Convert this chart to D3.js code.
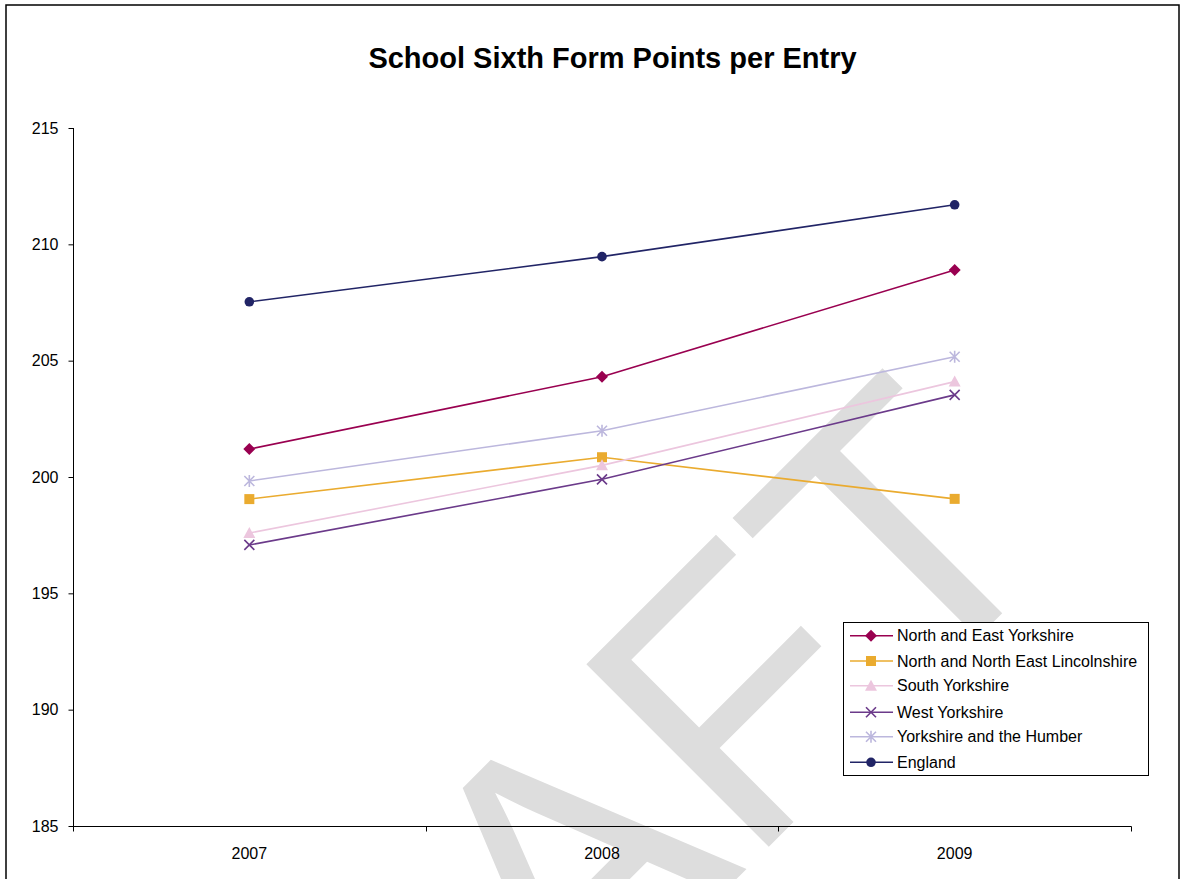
<!DOCTYPE html>
<html>
<head>
<meta charset="utf-8">
<script src="https://cdn.jsdelivr.net/npm/d3@7"></script>
<style>
  html, body { margin: 0; padding: 0; background: #fff; }
  svg { display: block; }
  text { font-family: "Liberation Sans", Arial, sans-serif; }
</style>
</head>
<body>
<svg id="chart" width="1183" height="879"></svg>
<script>
// ---- data ----
const categories = ["2007", "2008", "2009"];
const seriesNames = [
  "North and East Yorkshire",
  "North and North East Lincolnshire",
  "South Yorkshire",
  "West Yorkshire",
  "Yorkshire and the Humber",
  "England"
];
const northEastYorkshire = [201.20, 204.31, 208.90];
const northNorthEastLincs = [199.05, 200.85, 199.06];
const southYorkshire = [197.59, 200.50, 204.10];
const westYorkshire = [197.08, 199.90, 203.53];
const yorkshireHumber = [199.83, 201.99, 205.17];
const england = [207.53, 209.47, 211.70];
const yTicks = [185, 190, 195, 200, 205, 210, 215];
const title = "School Sixth Form Points per Entry";
const watermark = "DRAFT";

const seriesValues = [northEastYorkshire, northNorthEastLincs, southYorkshire, westYorkshire, yorkshireHumber, england];
const seriesColors = ["#990050", "#eaab2f", "#ecc6de", "#6b3a8a", "#bcb7dd", "#212466"];
const seriesMarkers = ["diamond", "square", "triangle", "x", "asterisk", "circle"];

const svg = d3.select("#chart");

// watermark (behind chart)
svg.append("text")
  .attr("transform", "translate(1071,544.5) rotate(-45)")
  .attr("text-anchor", "end")
  .attr("font-size", 375)
  .attr("fill", "#dddddd")
  .text(watermark);

// chart border
svg.append("rect")
  .attr("x", 6).attr("y", 5)
  .attr("width", 1173).attr("height", 900)
  .attr("fill", "none")
  .attr("stroke", "#000")
  .attr("stroke-width", 1.5);

// title
svg.append("text")
  .attr("x", 612.5).attr("y", 68)
  .attr("text-anchor", "middle")
  .attr("font-size", 29)
  .attr("font-weight", "bold")
  .attr("fill", "#000")
  .text(title);

const x = d3.scaleBand().domain(categories).range([73, 1131]).padding(0);
const y = d3.scaleLinear().domain([185, 215]).range([826, 128]);

// y axis
const yAxis = d3.axisLeft(y).tickValues(yTicks).tickSize(5).tickPadding(10).tickFormat(d3.format("d"));
const gy = svg.append("g").attr("transform", "translate(73.5,0)").call(yAxis);
gy.select(".domain").attr("stroke", "#000").attr("d", `M0,${y(215)}V${y(185)}`);
gy.selectAll(".tick line").attr("stroke", "#000");
gy.selectAll(".tick text").attr("font-size", 16).attr("fill", "#000").attr("font-family", "Liberation Sans, Arial, sans-serif");

// x axis
const boundaries = categories.map(c => x(c)).concat([x(categories[categories.length - 1]) + x.bandwidth()]);
const gx = svg.append("g").attr("transform", "translate(0,826.5)");
gx.append("line").attr("x1", 73).attr("x2", 1131.5).attr("y1", 0).attr("y2", 0).attr("stroke", "#000");
gx.selectAll("line.tk").data(boundaries).join("line").attr("class", "tk")
  .attr("x1", d => Math.round(d) + 0.5).attr("x2", d => Math.round(d) + 0.5)
  .attr("y1", 0).attr("y2", 5).attr("stroke", "#000");
gx.selectAll("text").data(categories).join("text")
  .attr("x", d => x(d) + x.bandwidth() / 2)
  .attr("y", 32)
  .attr("text-anchor", "middle")
  .attr("font-size", 16)
  .attr("fill", "#000")
  .text(d => d);

// marker drawing
function drawMarker(g, type, color, cx, cy) {
  const s = g.append("g").attr("transform", `translate(${cx},${cy})`);
  if (type === "diamond") {
    s.append("path").attr("d", "M0,-6L6,0L0,6L-6,0Z").attr("fill", color);
  } else if (type === "square") {
    s.append("rect").attr("x", -5).attr("y", -5).attr("width", 10).attr("height", 10).attr("fill", color);
  } else if (type === "triangle") {
    s.append("path").attr("d", "M0,-6L6,5L-6,5Z").attr("fill", color);
  } else if (type === "x") {
    s.append("path").attr("d", "M-5,-5L5,5M-5,5L5,-5").attr("stroke", color).attr("stroke-width", 1.6).attr("fill", "none");
  } else if (type === "asterisk") {
    s.append("path").attr("d", "M-5,-5L5,5M-5,5L5,-5M0,-6V6").attr("stroke", color).attr("stroke-width", 1.6).attr("fill", "none");
  } else if (type === "circle") {
    s.append("circle").attr("r", 4.8).attr("fill", color);
  }
}

const line = d3.line()
  .x((d, i) => x(categories[i]) + x.bandwidth() / 2)
  .y(d => y(d));

seriesValues.forEach((vals, si) => {
  const g = svg.append("g");
  g.append("path").attr("d", line(vals)).attr("fill", "none")
    .attr("stroke", seriesColors[si]).attr("stroke-width", 1.6);
  vals.forEach((v, i) => drawMarker(g, seriesMarkers[si], seriesColors[si], x(categories[i]) + x.bandwidth() / 2, y(v)));
});

// legend
const legendRows = [635.7, 661, 685.7, 712.3, 736.7, 762.3];
const lg = svg.append("g");
lg.append("rect").attr("x", 843.5).attr("y", 622.5).attr("width", 305).attr("height", 153)
  .attr("fill", "#fff").attr("stroke", "#000").attr("stroke-width", 1);
seriesNames.forEach((name, i) => {
  const cy = legendRows[i];
  lg.append("line").attr("x1", 850).attr("x2", 893).attr("y1", cy).attr("y2", cy)
    .attr("stroke", seriesColors[i]).attr("stroke-width", 1.6);
  drawMarker(lg, seriesMarkers[i], seriesColors[i], 871, cy);
  lg.append("text").attr("x", 897).attr("y", cy + 5.5).attr("font-size", 16).attr("fill", "#000").text(name);
});
</script>
</body>
</html>
